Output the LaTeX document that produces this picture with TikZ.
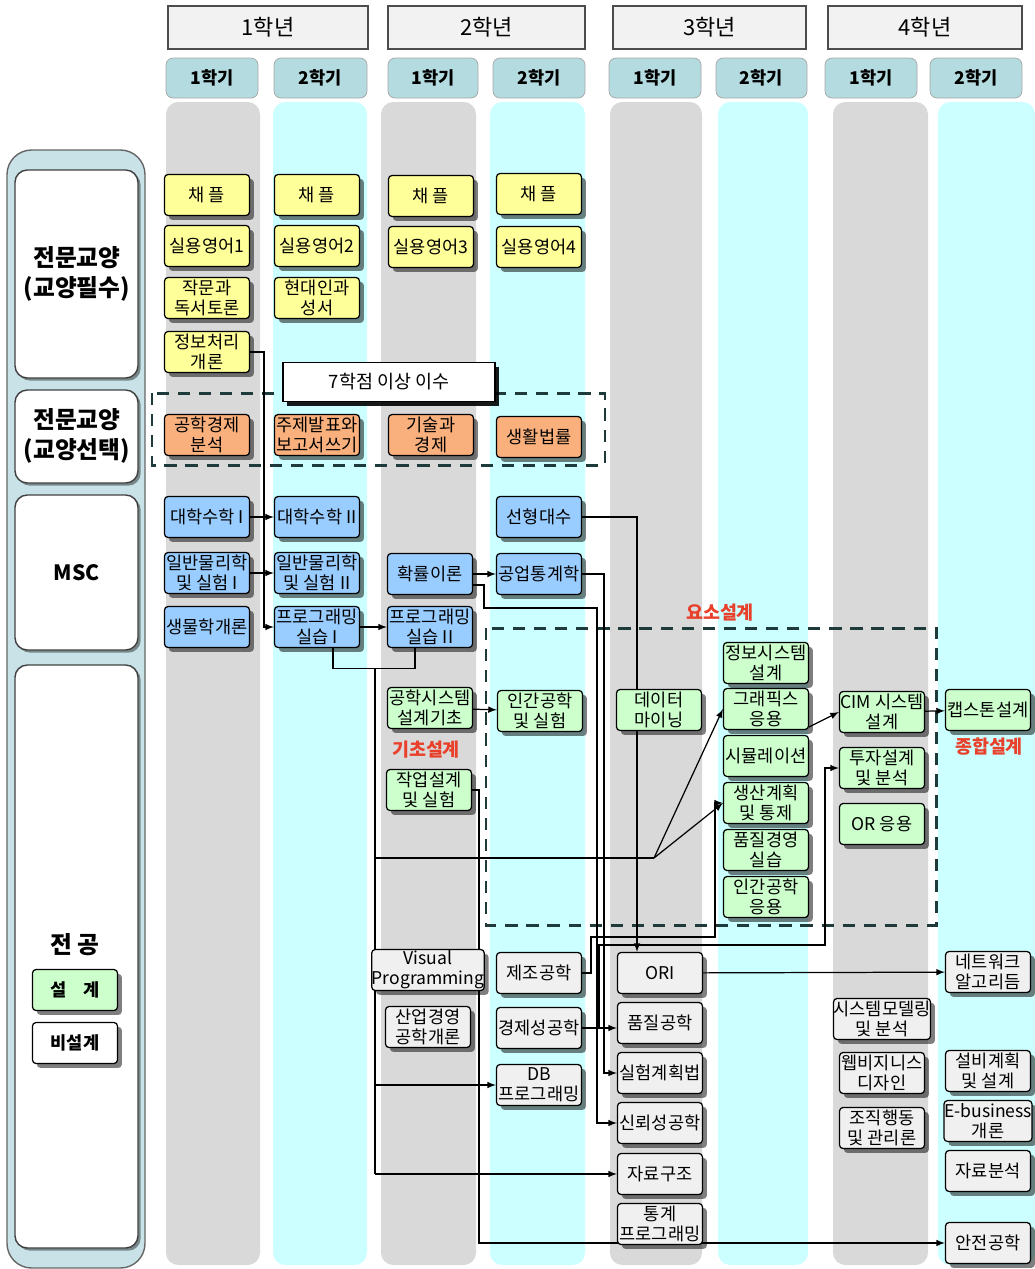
\documentclass[tikz,border=0pt]{standalone}
\usepackage{fontspec}
\setmainfont{Noto Sans CJK KR}
\usetikzlibrary{shadows,calc}
\definecolor{stripegray}{HTML}{D9D9D9}
\definecolor{stripecyan}{HTML}{CCFFFF}
\definecolor{semfill}{HTML}{B3DBE0}
\definecolor{yearfill}{HTML}{F2F2F2}
\definecolor{panelfill}{HTML}{C8E2E7}
\definecolor{crsyellow}{HTML}{FFFF99}
\definecolor{crsorange}{HTML}{F9B07C}
\definecolor{crsblue}{HTML}{99CCFF}
\definecolor{crsgreen}{HTML}{CCFFCC}
\definecolor{crsplain}{HTML}{F0F0F0}
\definecolor{labelred}{HTML}{E8402A}
\definecolor{dashteal}{HTML}{1E3A3A}
\pgfdeclarelayer{back}
\pgfdeclarelayer{mid}
\pgfsetlayers{back,mid,main}
\tikzset{
	crs/.style={draw=black,line width=0.7pt,rounded corners=2pt,minimum width=1.7cm,minimum height=0.82cm,inner sep=0pt,align=center,font=\fontsize{10}{11.5}\selectfont,drop shadow={shadow xshift=2.5pt,shadow yshift=-2.5pt,fill=black,opacity=.5}},
	yel/.style={crs,fill=crsyellow},
	org/.style={crs,fill=crsorange},
	blu/.style={crs,fill=crsblue},
	grn/.style={crs,fill=crsgreen},
	pln/.style={crs,fill=crsplain},
	arr/.style={-latex,line width=0.7pt},
	wire/.style={line width=0.7pt},
	zone/.style={dashteal,line width=1.7pt,dash pattern=on 7pt off 5pt},
	zonelbl/.style={text=labelred,font=\fontsize{10.5}{12}\selectfont\bfseries},
	catlbl/.style={align=center,font=\fontsize{13.5}{17}\selectfont\bfseries},
	semhd/.style={fill=semfill,draw=gray!70,rounded corners=4pt},
	yearhd/.style={fill=yearfill,draw=black!70,line width=0.8pt},
	catbox/.style={fill=white,draw=black!75,rounded corners=7pt,line width=0.8pt,drop shadow={shadow xshift=1.5pt,shadow yshift=-1.5pt,fill=black,opacity=.4}}
}
\begin{document}
\begin{tikzpicture}[x=0.02cm,y=-0.02cm]
		\useasboundingbox (0,0) rectangle (1035,1269);
		\begin{pgfonlayer}{back}
		\foreach \xa/\xb in {166/260,381/476,610/702,833/928}
			\fill[stripegray,rounded corners=7pt] (\xa,102) rectangle (\xb,1265);
		\foreach \xa/\xb in {273/367,490/585,718/808,938/1035}
			\fill[stripecyan,rounded corners=7pt] (\xa,102) rectangle (\xb,1265);
		\foreach \xa/\xb/\yr in {168/368/1,388/585/2,613/806/3,828/1022/4}{
			\draw[yearhd] (\xa,6) rectangle (\xb,49);
			\node[font=\fontsize{12.5}{14}\selectfont] (year\yr) at ({(\xa+\xb)/2},27.5) {{\yr}학년};
		}
		\foreach \xa/\xb/\sm [count=\i] in {166/258/1,274/367/2,388/478/1,493/585/2,609/701/1,716/807/2,825/917/1,930/1022/2}{
			\draw[semhd] (\xa,58) rectangle (\xb,98);
			\node[font=\fontsize{10}{12}\selectfont\bfseries] (sem\i) at ({(\xa+\xb)/2},78) {{\sm}학기};
		}
		\draw[draw=black!60,fill=panelfill,rounded corners=14pt,line width=0.8pt] (7,150) rectangle (145,1268);
		\foreach \ya/\yb in {170/378,390/483,495/650,665/1248}
			\draw[catbox] (15,\ya) rectangle (138,\yb);
		\end{pgfonlayer}
		\node[catlbl] (catreq) at (77,274) {전문교양\\(교양필수)};
		\node[catlbl] (catsel) at (77,436) {전문교양\\(교양선택)};
		\node[catlbl,font=\fontsize{12}{14}\selectfont\bfseries] (catmsc) at (77,573) {MSC};
		\node[catlbl] (catmaj) at (75,945) {전 공};
		\node[grn,font=\fontsize{10}{12}\selectfont\bfseries] (lgdes) at (75,990) {설\quad 계};
		\node[crs,fill=white,font=\fontsize{10}{12}\selectfont\bfseries] (lgnon) at (75,1043) {비설계};
		\node[yel] (ch1) at (207,195) {채 플};
		\node[yel] (ch2) at (317,195) {채 플};
		\node[yel] (ch3) at (431,196) {채 플};
		\node[yel] (ch4) at (539,194) {채 플};
		\node[yel] (en1) at (207,246) {실용영어1};
		\node[yel] (en2) at (317,246) {실용영어2};
		\node[yel] (en3) at (431,247) {실용영어3};
		\node[yel] (en4) at (539,247) {실용영어4};
		\node[yel] (wr) at (207,298) {작문과\\독서토론};
		\node[yel] (md) at (317,298) {현대인과\\성서};
		\node[yel] (info) at (207,352) {정보처리\\개론};
		\node[org] (ee) at (207,435) {공학경제\\분석};
		\node[org] (pres) at (317,435) {주제발표와\\보고서쓰기};
		\node[org] (tech) at (431,435) {기술과\\경제};
		\node[org] (law) at (539,437) {생활법률};
		\node[crs,fill=white,rounded corners=0pt,minimum width=4.24cm,minimum height=0.78cm,font=\fontsize{10.5}{12}\selectfont,drop shadow={shadow xshift=2.5pt,shadow yshift=-2.5pt,fill=black,opacity=.8}] (req) at (389,382) {7학점 이상 이수};
		\node[blu] (m1) at (207,517) {대학수학 I};
		\node[blu] (m2) at (317,517) {대학수학 II};
		\node[blu] (la) at (539,517) {선형대수};
		\node[blu] (ph1) at (207,573) {일반물리학\\및 실험 I};
		\node[blu] (ph2) at (317,573) {일반물리학\\및 실험 II};
		\node[blu] (prob) at (430,574) {확률이론};
		\node[blu] (stat) at (539,574) {공업통계학};
		\node[blu] (bio) at (207,627) {생물학개론};
		\node[blu] (pg1) at (317,627) {프로그래밍\\실습 I};
		\node[blu] (pg2) at (430,627) {프로그래밍\\실습 II};
		\node[grn] (esd) at (430,708) {공학시스템\\설계기초};
		\node[grn] (hf) at (540,711) {인간공학\\및 실험};
		\node[grn] (dm) at (659,710) {데이터\\마이닝};
		\node[grn] (wd) at (429,790) {작업설계\\및 실험};
		\node[grn] (isd) at (766,663) {정보시스템\\설계};
		\node[grn] (gr) at (766,709) {그래픽스\\응용};
		\node[grn] (sim) at (766,756) {시뮬레이션};
		\node[grn] (ppc) at (766,803) {생산계획\\및 통제};
		\node[grn] (qm) at (766,850) {품질경영\\실습};
		\node[grn] (hfa) at (766,897) {인간공학\\응용};
		\node[grn] (cim) at (882,712) {CIM 시스템\\설계};
		\node[grn] (inv) at (882,768) {투자설계\\및 분석};
		\node[grn] (ora) at (882,824) {OR 응용};
		\node[grn] (cap) at (988,710) {캡스톤설계};
		\node[zonelbl] (lbbase) at (426,750) {기초설계};
		\node[zonelbl] (lbelem) at (720,613) {요소설계};
		\node[zonelbl] (lbcomp) at (989,747) {종합설계};
		\node[pln] (vp) at (428,970) {Visual\\Programming};
		\node[pln] (ime) at (428,1027) {산업경영\\공학개론};
		\node[pln] (mfg) at (539,973) {제조공학};
		\node[pln] (eco) at (539,1028) {경제성공학};
		\node[pln] (db) at (539,1085) {DB\\프로그래밍};
		\node[pln] (ori) at (660,973) {ORI};
		\node[pln] (qe) at (660,1023) {품질공학};
		\node[pln] (doe) at (660,1073) {실험계획법};
		\node[pln] (rel) at (660,1123) {신뢰성공학};
		\node[pln] (ds) at (660,1174) {자료구조};
		\node[pln] (sp) at (660,1224) {통계\\프로그래밍};
		\node[pln] (smo) at (882,1019) {시스템모델링\\및 분석};
		\node[pln] (web) at (882,1073) {웹비지니스\\디자인};
		\node[pln] (ob) at (882,1128) {조직행동\\및 관리론};
		\node[pln] (net) at (988,972) {네트워크\\알고리듬};
		\node[pln] (fac) at (988,1071) {설비계획\\및 설계};
		\node[pln] (eb) at (988,1121) {E-business\\개론};
		\node[pln] (da) at (988,1171) {자료분석};
		\node[pln] (saf) at (988,1243) {안전공학};
		\begin{pgfonlayer}{mid}
		\draw[zone] (152,393) rectangle (605,465);
		\draw[zone] (486,628) rectangle (936,925);
		\draw[arr] (m1) -- (m2);
		\draw[arr] (ph1) -- (ph2);
		\draw[arr] (info.east) -- ++(14,0) |- (pg1.west);
		\draw[arr] (pg1) -- (pg2);
		\draw[arr] (prob) -- (stat);
		\draw[arr] ([yshift=-0.22cm]prob.east) -- ++(11,0) |- (597,608) |- (rel.west);
		\draw[arr] (la.east) -| ([xshift=-0.46cm]ori.north);
		\draw[arr] (stat.east) -- ++(22,0) |- (doe.west);
		\draw[arr] (eco.east) -- (eco.east -| qe.west);
		\draw[arr] (eco.east) -- ++(17,0) |- (825,945) |- (inv.west);
		\draw[arr] (mfg.east) -- ++(9,0) |- (715,937) |- (ppc.west);
		\draw[wire] ($(pg1.south)+(16,0)$) -- ++(0,20) -| ($(pg2.south)+(-15,0)$);
		\coordinate (br) at (375,668);
		\coordinate (fork) at (654,858);
		\draw[wire] (br) -- (br |- ds.west);
		\draw[wire] (br |- fork) -- (fork);
		\draw[arr] (fork) -- (gr.west);
		\draw[arr] (fork) -- (ppc.west);
		\draw[arr] (br |- db.west) -- (db.west);
		\draw[arr] (br |- ds.west) -- (ds.west);
		\draw[arr] (esd) -- (hf);
		\draw[arr] (wd.east) -- ++(7,0) |- (saf.west);
		\draw[arr] ([yshift=-0.36cm]gr.east) -- (cim.west);
		\draw[arr] (cim) -- (cap);
		\draw[arr] (ori) -- (net);
		\end{pgfonlayer}
\end{tikzpicture}
\end{document}
